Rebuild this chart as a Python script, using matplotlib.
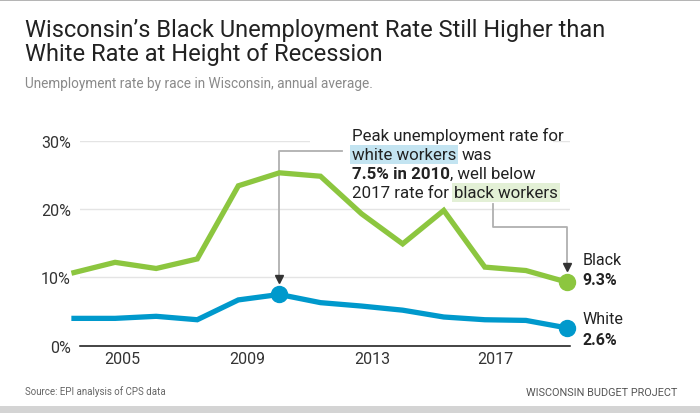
import matplotlib.pyplot as plt
from matplotlib.patches import Rectangle

plt.rcParams['font.family'] = ['Roboto', 'DejaVu Sans']

# Annual averages, Wisconsin (percent)
years = list(range(2005, 2018))
black = [10.7, 12.2, 11.3, 12.7, 23.4, 25.3, 24.8, 19.3, 14.9, 19.8, 11.5, 11.0, 9.3]
white = [4.0, 4.0, 4.3, 3.8, 6.7, 7.5, 6.3, 5.8, 5.2, 4.2, 3.8, 3.7, 2.6]

# the source chart puts its year labels between the data points
tick_labels = ['2005', '2009', '2013', '2017']
tick_pos = [1.17, 4.21, 7.25, 10.25]
y_ticks = [0, 10, 20, 30]

green = '#8cc63f'
blue = '#0099cc'
W, H = 700, 414


def fx(px):
    return px / W


def fy(py):
    return 1 - py / H


fig = plt.figure(figsize=(7, 4.14), dpi=100)

# frame: thin top rule and grey footer band
fig.add_artist(Rectangle((0, fy(2)), 1, 2 / H, transform=fig.transFigure, fc='#b5b5b5', ec='none'))
fig.add_artist(Rectangle((0, 0), 1, 7 / H, transform=fig.transFigure, fc='#d4d4d4', ec='none'))

fig.text(fx(25), fy(37.5), "Wisconsin’s Black Unemployment Rate Still Higher than",
         fontsize=17, color='#222222', va='baseline')
fig.text(fx(25), fy(61.5), "White Rate at Height of Recession",
         fontsize=17, color='#222222', va='baseline')
fig.text(fx(25), fy(88), "Unemployment rate by race in Wisconsin, annual average.",
         fontsize=9.8, color='#8a8a8a', va='baseline')
fig.text(fx(25), fy(392), "Source: EPI analysis of CPS data", fontsize=7, color='#666666', va='center')
fig.text(fx(677), fy(393), "WISCONSIN BUDGET PROJECT", fontsize=7.8, color='#555555',
         va='center', ha='right')

ax = fig.add_axes([fx(80), fy(346.7), 490 / W, (346.7 - 141.7) / H])
x = list(range(len(years)))
ax.set_xlim(0.146, 12.073)
ax.set_ylim(0, 30)

for v in y_ticks[1:]:
    ax.axhline(v, color='#e4e4e4', lw=1, zorder=0)
for s in ['top', 'right', 'left']:
    ax.spines[s].set_visible(False)
ax.spines['bottom'].set_color('#111111')
ax.spines['bottom'].set_linewidth(1.1)
ax.spines['bottom'].set_zorder(4)

ax.set_yticks(y_ticks, [f'{v}%' for v in y_ticks])
ax.set_xticks(tick_pos, tick_labels)
ax.tick_params(axis='y', length=0, pad=6.5, labelsize=11.5, labelcolor='#333333')
ax.tick_params(axis='x', length=0, pad=3.5, labelsize=11.5, labelcolor='#333333')

# white patch behind the annotation text hides the top gridline
ax.add_patch(Rectangle((fx(310), fy(200)), 243 / W, 72 / H, transform=fig.transFigure,
                       fc='white', ec='none', zorder=1, clip_on=False))

ax.plot(x, black, color=green, lw=3.8, solid_joinstyle='miter', zorder=3, clip_on=False)
ax.plot(x, white, color=blue, lw=3.8, solid_joinstyle='miter', zorder=3, clip_on=False)

peak = years.index(2010)
ax.plot([x[-1]], [black[-1]], 'o', ms=11.5, color=green, zorder=4, clip_on=False)
ax.plot([x[-1], peak], [white[-1], white[peak]], 'o', ms=11.5, color=blue, zorder=4, clip_on=False)

# connector lines for the note
gray = '#b0b0b0'
ax.plot([6.52, peak, peak], [28.5, 28.5, white[peak] + 2.3], color=gray, lw=1.3, zorder=2, clip_on=False)
ax.plot([peak], [white[peak] + 2.3], 'v', ms=6, color='#333333', zorder=5, clip_on=False)
ax.plot([10.2, 10.2, x[-1], x[-1]], [20.7, 17.4, 17.4, black[-1] + 2.2], color=gray, lw=1.3,
        zorder=2, clip_on=False)
ax.plot([x[-1]], [black[-1] + 2.2], 'v', ms=6, color='#333333', zorder=5, clip_on=False)

# end labels
lab = dict(textcoords='offset points', fontsize=11.5, va='center', color='#222222')
ax.annotate('Black', xy=(x[-1], black[-1]), xytext=(11, 16.5), **lab)
ax.annotate(f'{black[-1]}%', xy=(x[-1], black[-1]), xytext=(11, 2.2), fontweight='bold', **lab)
ax.annotate('White', xy=(x[-1], white[-1]), xytext=(11, 6.5), **lab)
ax.annotate(f'{white[-1]}%', xy=(x[-1], white[-1]), xytext=(11, -8), fontweight='bold', **lab)

# note with highlighted words, pieces chained left to right
renderer = fig.canvas.get_renderer()
note_size = 12.2
left = fx(352)


def piece(xpos, ypx, s, **kw):
    t = fig.text(xpos, fy(ypx), s, fontsize=note_size, color='#222222', va='baseline', zorder=6, **kw)
    ext = t.get_window_extent(renderer).transformed(fig.transFigure.inverted())
    return ext.x1


gap = 5 / W
piece(left, 141, "Peak unemployment rate for")
x1 = piece(left, 160, "white workers",
           bbox=dict(boxstyle='square,pad=0.12', fc='#c3e4f1', ec='none'))
piece(x1 + gap, 160, "was")
x1 = piece(left, 179, "7.5% in 2010", fontweight='bold')
piece(x1, 179, ", well below")
x1 = piece(left, 198, "2017 rate for")
piece(x1 + gap, 198, "black workers",
      bbox=dict(boxstyle='square,pad=0.12', fc='#e3f0d6', ec='none'))

fig.savefig('out.png', dpi=100)
